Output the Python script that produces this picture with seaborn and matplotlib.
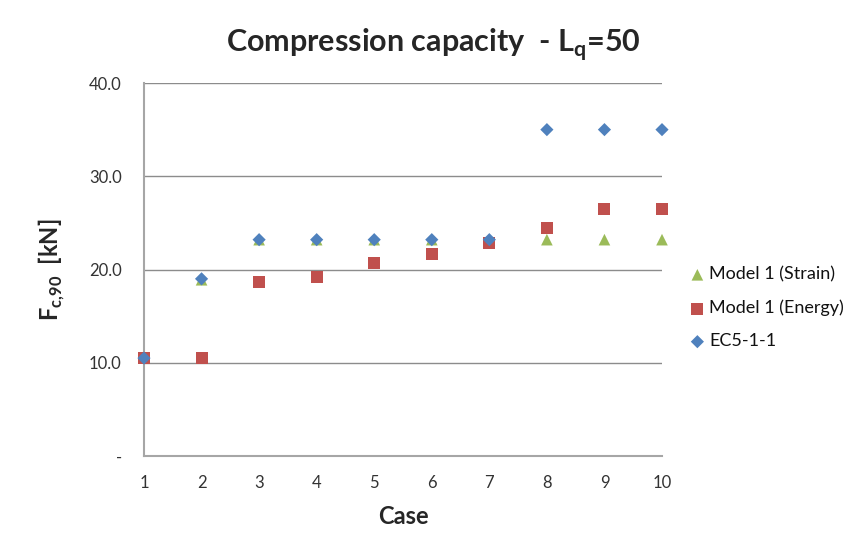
import matplotlib
matplotlib.use("Agg")
import matplotlib.pyplot as plt
import seaborn as sns
import pandas as pd

# Compression capacity per case for the three design approaches
cases = [1, 2, 3, 4, 5, 6, 7, 8, 9, 10]
model_strain = [10.5, 18.9, 23.2, 23.2, 23.2, 23.2, 23.2, 23.2, 23.2, 23.2]
model_energy = [10.5, 10.5, 18.7, 19.2, 20.7, 21.7, 22.8, 24.5, 26.5, 26.5]
ec5 = [10.5, 19.0, 23.2, 23.2, 23.2, 23.2, 23.2, 35.0, 35.0, 35.0]
series_names = ["Model 1 (Strain)", "Model 1 (Energy)", "EC5-1-1"]
y_ticks = [0, 10, 20, 30, 40]
y_tick_labels = ["-", "10.0", "20.0", "30.0", "40.0"]

df = pd.concat([
    pd.DataFrame({"Case": cases, "F": vals, "Series": name})
    for name, vals in zip(series_names, [model_strain, model_energy, ec5])
], ignore_index=True)

sns.set_theme(style="white")
plt.rcParams["font.family"] = ["Lato", "DejaVu Sans"]
plt.rcParams["mathtext.fontset"] = "custom"
plt.rcParams["mathtext.rm"] = "Lato"
plt.rcParams["mathtext.bf"] = "Lato:bold"

fig = plt.figure(figsize=(8.46, 5.42), dpi=100)
ax = fig.add_axes([144 / 846, 1 - 456 / 542, (662 - 144) / 846, (456 - 83) / 542])

palette = {"Model 1 (Strain)": "#9BBB59", "Model 1 (Energy)": "#C0504D", "EC5-1-1": "#4F81BD"}
markers = {"Model 1 (Strain)": "^", "Model 1 (Energy)": "s", "EC5-1-1": "D"}
sizes = {"Model 1 (Strain)": 70, "Model 1 (Energy)": 75, "EC5-1-1": 45}

for name in series_names:
    sub = df[df["Series"] == name]
    sns.scatterplot(data=sub, x="Case", y="F", color=palette[name], marker=markers[name],
                    s=sizes[name], edgecolor="none", ax=ax, label=name, clip_on=False, zorder=3)

ax.set_xlim(1, 10)
ax.set_ylim(0, 40)
ax.set_xticks(cases)
ax.set_xticklabels([str(c) for c in cases])
ax.set_yticks(y_ticks)
ax.set_yticklabels(y_tick_labels)
ax.tick_params(axis="both", length=0, labelsize=12, colors="#333333")
ax.tick_params(axis="y", pad=16)
ax.tick_params(axis="x", pad=14)

ax.grid(axis="y", color="#8c8c8c", linewidth=1.0)
ax.grid(axis="x", visible=False)
for side in ["top", "right"]:
    ax.spines[side].set_visible(False)
for side in ["left", "bottom"]:
    ax.spines[side].set_color("#a6a6a6")
    ax.spines[side].set_linewidth(1.5)

ax.set_xlabel("Case", fontsize=17, fontweight="bold", labelpad=10)
ax.set_ylabel(r"F$_{\mathbf{c{,}90}}$  [kN]", fontsize=17, fontweight="bold", labelpad=16)
fig.text(433 / 846, 1 - 45 / 542, r"Compression capacity  - L$_{\mathbf{q}}$=50",
         ha="center", va="center", fontsize=22, fontweight="bold")

leg = ax.legend(loc="center left", bbox_to_anchor=(1.016, 0.397), frameon=False,
                fontsize=13, handletextpad=0.05, labelspacing=0.95, handlelength=1.2)
for t in leg.get_texts():
    t.set_color("#111111")

fig.savefig("out.png", dpi=100)
